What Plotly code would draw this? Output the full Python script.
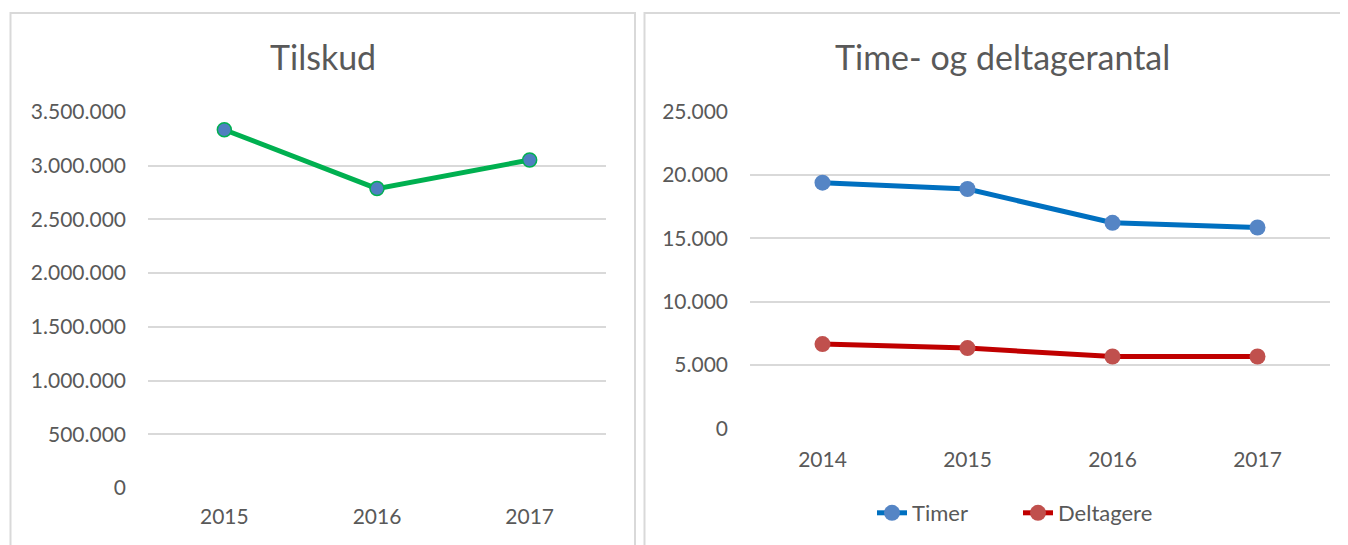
import plotly.graph_objects as go

# page body has an 8px margin: the figure is drawn 8px in, so size it to fit the window
OFF = 8
W, H = 1348 - OFF, 545 - OFF

# ---- data ----
years_left = ["2015", "2016", "2017"]
tilskud = [3335000, 2787000, 3053000]

years_right = ["2014", "2015", "2016", "2017"]
timer = [19370, 18870, 16210, 15840]
deltagere = [6660, 6340, 5680, 5680]

title_left = "Tilskud"
title_right = "Time- og deltagerantal"

FONT = "Lato"
TXT = "#595959"
GRID = "#d9d9d9"

def px_x(v):
    return (v - OFF) / W

def px_y(v):
    return 1 - (v - OFF) / H

fig = go.Figure()

fig.add_trace(go.Scatter(
    x=years_left, y=tilskud, mode="lines+markers", name="Tilskud",
    line=dict(color="#00b050", width=5),
    marker=dict(size=14, color="#4f7fc0", line=dict(color="#00b050", width=1.5)),
    xaxis="x", yaxis="y", showlegend=False,
))

fig.add_trace(go.Scatter(
    x=years_right, y=timer, mode="lines+markers", name="Timer",
    line=dict(color="#0070c0", width=5),
    marker=dict(size=16, color="#5585c5"),
    xaxis="x2", yaxis="y2",
))
fig.add_trace(go.Scatter(
    x=years_right, y=deltagere, mode="lines+markers", name="Deltagere",
    line=dict(color="#c00000", width=5),
    marker=dict(size=16, color="#c0504d"),
    xaxis="x2", yaxis="y2",
))

axis_font = dict(family=FONT, size=21, color=TXT)

fig.update_layout(
    width=W, height=H,
    margin=dict(l=0, r=0, t=0, b=0, autoexpand=False),
    paper_bgcolor="white", plot_bgcolor="white",
    separators=",.",
    font=dict(family=FONT, color=TXT),
    xaxis=dict(domain=[px_x(148), px_x(606)], type="category", range=[-0.5, 2.5],
               showgrid=False, showline=False, zeroline=False, automargin=False,
               tickfont=axis_font, ticklabelstandoff=14, anchor="y"),
    yaxis=dict(domain=[px_y(488), px_y(112)], range=[0, 3500000], dtick=500000,
               tickformat=",d", showgrid=True, gridcolor=GRID, gridwidth=1.5,
               zeroline=False, showline=False, tickfont=axis_font, automargin=False,
               ticklabelstandoff=21, anchor="x"),
    xaxis2=dict(domain=[px_x(750), px_x(1330)], type="category", range=[-0.5, 3.5],
                showgrid=False, showline=False, zeroline=False, automargin=False,
                tickfont=axis_font, ticklabelstandoff=16, anchor="y2"),
    yaxis2=dict(domain=[px_y(428.6), px_y(111.2)], range=[0, 25000], dtick=5000,
                tickformat=",d", showgrid=True, gridcolor=GRID, gridwidth=1.5,
                zeroline=False, showline=False, tickfont=axis_font, automargin=False,
                ticklabelstandoff=21, anchor="x2"),
    legend=dict(orientation="h", x=px_x(872), xanchor="left",
                y=px_y(513), yanchor="middle", entrywidth=101,
                font=dict(family=FONT, size=22, color=TXT),
                bgcolor="rgba(0,0,0,0)"),
    shapes=[
        dict(type="rect", xref="paper", yref="paper",
             x0=px_x(10.5), x1=px_x(635), y0=-0.2, y1=px_y(13),
             line=dict(color=GRID, width=2), layer="below"),
        dict(type="rect", xref="paper", yref="paper",
             x0=px_x(644.5), x1=1.2, y0=-0.2, y1=px_y(13),
             line=dict(color=GRID, width=2), layer="below"),
    ],
    annotations=[
        dict(text=title_left, xref="paper", yref="paper", x=px_x(323), y=px_y(57),
             xanchor="center", yanchor="middle", showarrow=False,
             font=dict(family=FONT, size=34, color=TXT)),
        dict(text=title_right, xref="paper", yref="paper", x=px_x(1002), y=px_y(57),
             xanchor="center", yanchor="middle", showarrow=False,
             font=dict(family=FONT, size=34, color=TXT)),
    ],
)

fig.write_html("out.html")
